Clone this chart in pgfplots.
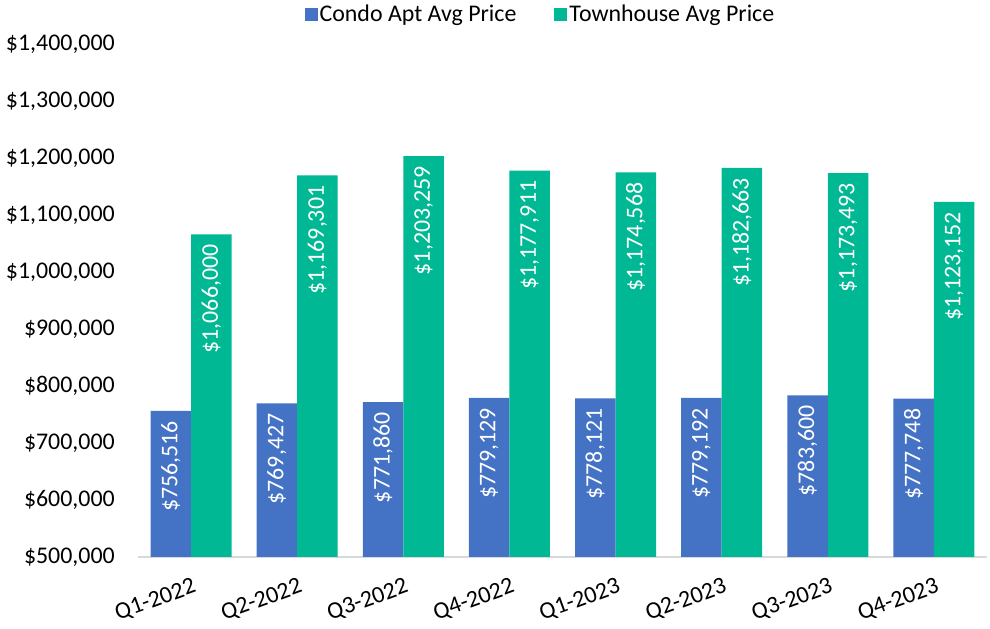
\documentclass[border=0pt]{standalone}
\usepackage{pgfplots}
\pgfplotsset{compat=1.18}
\usepackage{fontspec}
\setmainfont{Carlito}
\definecolor{condo}{RGB}{68,114,196}
\definecolor{town}{RGB}{0,185,148}
\definecolor{axisgray}{RGB}{217,217,217}
\begin{document}
\begin{tikzpicture}
\begin{axis}[
  width=849bp, height=513bp, scale only axis,
  ybar=0pt, bar width=40.5bp,
  xmin=-0.5, xmax=7.5, ymin=500000, ymax=1400000,
  xtick={0,1,2,3,4,5,6,7},
  xticklabels={Q1-2022,Q2-2022,Q3-2022,Q4-2022,Q1-2023,Q2-2023,Q3-2023,Q4-2023},
  ytick={500000,600000,700000,800000,900000,1000000,1100000,1200000,1300000,1400000},
  scaled y ticks=false,
  /pgf/number format/assume math mode=true,
  yticklabel={\$\pgfmathprintnumber[fixed,precision=0,1000 sep={,}]{\tick}},
  tick label style={font=\fontsize{24}{29}\selectfont},
  yticklabel style={inner sep=0pt, xshift=-23bp},
  xticklabel style={rotate=20, anchor=north east, inner sep=0pt, yshift=-19bp, xshift=-6bp},
  major tick length=0pt,
  axis x line*=bottom, axis y line*=left,
  y axis line style={draw=none},
  x axis line style={draw=axisgray, line width=1.5bp, -},
  nodes near coords={\$\pgfmathprintnumber[fixed,precision=0,1000 sep={,}]{\pgfplotspointmeta}},
  every node near coord/.append style={rotate=90, anchor=east, color=white, inner sep=10bp, font=\fontsize{24}{29}\selectfont},
  legend style={at={(0.474,1.058)}, anchor=center, draw=none, fill=none, legend columns=2,
    font=\fontsize{24}{29}\selectfont,
    /tikz/every even column/.append style={column sep=36bp}},
  legend image code/.code={\fill[#1] (-6bp,-6.5bp) rectangle (7bp,6.5bp);},
]
\addplot[fill=condo, draw=none] coordinates {(0,756516) (1,769427) (2,771860) (3,779129) (4,778121) (5,779192) (6,783600) (7,777748)};
\addplot[fill=town, draw=none] coordinates {(0,1066000) (1,1169301) (2,1203259) (3,1177911) (4,1174568) (5,1182663) (6,1173493) (7,1123152)};
\legend{Condo Apt Avg Price, Townhouse Avg Price}
\end{axis}
\pgfresetboundingbox
\path ([shift={(-138bp,-72bp)}]current axis.south west) rectangle ([shift={(3bp,44bp)}]current axis.north east);
\end{tikzpicture}
\end{document}
